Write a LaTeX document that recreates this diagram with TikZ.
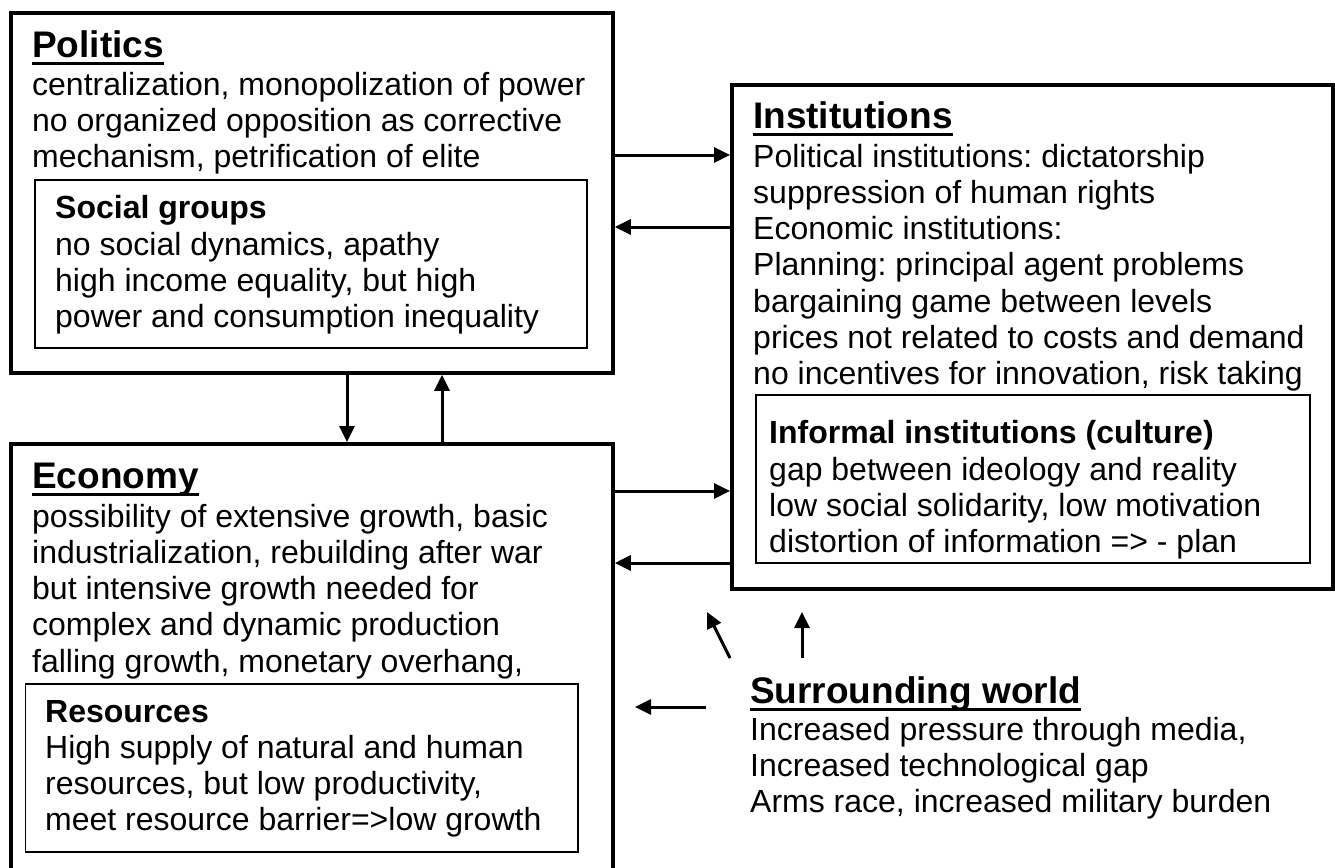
\documentclass[tikz,border=0pt]{standalone}
\usepackage{fontspec}
\setmainfont{Liberation Sans}
\usetikzlibrary{arrows.meta}
\frenchspacing
\newcommand\bodyfont{\fontsize{32}{36}\selectfont}
\newcommand\headfont{\fontsize{37}{40}\selectfont\bfseries}
\newcommand\subfont{\fontsize{32}{36}\selectfont\bfseries}
\newcommand\txtlines[4]{%
  \foreach \t [count=\i] in {#4} \node[txt] (#1\i) at (#2, #3+36.3*\i-36.3) {\t};}
\newcommand\headline[4]{%
  \node[head] (#1) at (#2,#3) {#4};
  \draw[uline] ([yshift=-6.5pt]#1.base west) -- ([yshift=-6.5pt]#1.base east);}
\tikzset{
  txt/.style={anchor=base west, inner sep=0pt, font=\bodyfont},
  head/.style={anchor=base west, inner sep=0pt, font=\headfont},
  subhead/.style={anchor=base west, inner sep=0pt, font=\subfont},
  uline/.style={line width=3pt},
  obox/.style={draw, line width=3.8pt, anchor=north west, inner sep=0pt},
  ibox/.style={draw, line width=1.8pt, anchor=north west, inner sep=0pt},
  arr/.style={line width=3pt, -{Triangle[length=16pt,width=15pt]}}
}
\begin{document}
\begin{tikzpicture}[x=1pt,y=-1pt]
\fill[white] (0,0) rectangle (1335,867);
\useasboundingbox (0,0) rectangle (1335,867);

% boxes
\node[obox, minimum width=602pt, minimum height=360pt] (pol) at (9,11) {};
\node[ibox, minimum width=552pt, minimum height=168pt] (soc) at (34,179) {};
\node[obox, minimum width=602pt, minimum height=470pt] (eco) at (9,442) {};
\node[ibox, minimum width=552.5pt, minimum height=168pt] (res) at (24.5,683) {};
\node[obox, minimum width=601pt, minimum height=504pt] (inst) at (730,83) {};
\node[ibox, minimum width=554pt, minimum height=168pt] (inf) at (755,394) {};

% Politics
\headline{polh}{32}{57}{Politics}
\txtlines{polt}{32}{95}{{centralization, monopolization of power},{no organized opposition as corrective},{mechanism, petrification of elite}}
\node[subhead] (soch) at (55,218) {Social groups};
\txtlines{soct}{55}{255}{{no social dynamics, apathy},{high income equality, but high},{power and consumption inequality}}

% Economy
\headline{ecoh}{32}{488}{Economy}
\txtlines{ecot}{32}{527}{{possibility of extensive growth, basic},{industrialization, rebuilding after war},{but intensive growth needed for},{complex and dynamic production},{falling growth, monetary overhang,}}
\node[subhead] (resh) at (45,722) {Resources};
\txtlines{rest}{45}{758}{{High supply of natural and human},{resources, but low productivity,},{meet resource barrier=>low growth}}

% Institutions
\headline{insth}{753}{128}{Institutions}
\txtlines{instt}{753}{167}{{Political institutions: dictatorship},{suppression of human rights},{Economic institutions:},{Planning: principal agent problems},{bargaining game between levels},{prices not related to costs and demand},{no incentives for innovation, risk taking}}
\node[subhead] (infh) at (769,443) {Informal institutions (culture)};
\txtlines{inft}{769}{480}{{gap between ideology and reality},{low social solidarity, low motivation},{distortion of information => - plan}}

% Surrounding world
\headline{surh}{750}{703}{Surrounding world}
\txtlines{surt}{750}{740}{{Increased pressure through media,},{Increased technological gap},{Arms race, increased military burden}}

% connectors
\draw[arr] (pol.east |- 0,155) -- (inst.west |- 0,155);
\draw[arr] (inst.west |- 0,227) -- (pol.east |- 0,227);
\draw[arr] (pol.south -| 347,0) -- (eco.north -| 347,0);
\draw[arr] (eco.north -| 442,0) -- (pol.south -| 442,0);
\draw[arr] (eco.east |- 0,491) -- (inst.west |- 0,491);
\draw[arr] (inst.west |- 0,563) -- (eco.east |- 0,563);

\coordinate (d1) at (730,658);
\coordinate (d2) at (707,612);
\coordinate (v1) at (802,658);
\coordinate (v2) at (802,612);
\coordinate (l1) at (706,707);
\coordinate (l2) at (635,707);
\draw[arr] (d1) -- (d2);
\draw[arr] (v1) -- (v2);
\draw[arr] (l1) -- (l2);
\end{tikzpicture}
\end{document}
